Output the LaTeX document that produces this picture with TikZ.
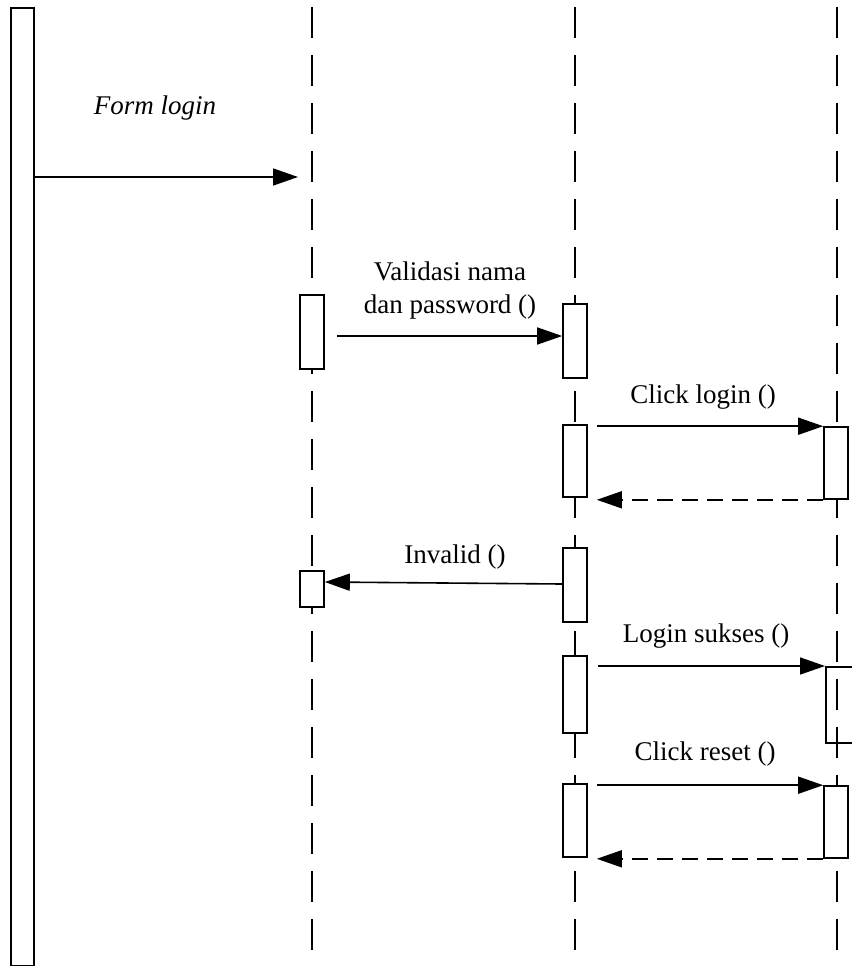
\documentclass[tikz,border=0pt]{standalone}
\usepackage{fontspec}
\setmainfont{Liberation Serif}
\usetikzlibrary{arrows.meta}
\tikzset{
  life/.style={line width=1.6pt,dash pattern=on 31pt off 17pt},
  act/.style={rectangle,draw,fill=white,line width=1.6pt,minimum width=24pt,inner sep=0pt},
  msg/.style={-{Triangle[length=25pt,width=17pt]},line width=1.6pt},
  ret/.style={msg,dash pattern=on 16pt off 9pt},
  lbl/.style={font=\fontsize{27}{33}\selectfont,align=center,inner sep=0pt},
}

\begin{document}
\begin{tikzpicture}[x=1pt,y=-1pt]
  \useasboundingbox (0,0) rectangle (851,966);
  % lifelines
  \foreach \x in {312,575,837} \draw[life] (\x,7) -- (\x,966);
  \node[act,minimum width=23pt,minimum height=958pt,anchor=north] (user) at (22.5,7) {};
  % activations
  \node[act,minimum height=74pt] (v1) at (312,332) {};
  \node[act,minimum height=36pt] (i1) at (312,589) {};
  \node[act,minimum height=74pt] (v2) at (575,341) {};
  \node[act,minimum height=72pt] (c2) at (575,461) {};
  \node[act,minimum height=74pt] (n2) at (575,585) {};
  \node[act,minimum height=77pt] (s2) at (575,694.5) {};
  \node[act,minimum height=73pt] (r2) at (575,820.5) {};
  \node[act,minimum height=72pt] (c3) at (836,463) {};
  \node[act,fill=none,minimum width=37pt,minimum height=76pt,anchor=north west] (s3) at (825,666) {};
  \node[act,minimum height=72pt] (r3) at (836,822) {};
  % messages
  \coordinate (form) at (298,177);
  \draw[msg] (user.east |- form) -- (form);
  \draw[msg] ([xshift=12pt]v1.east |- 0,336) -- (v2.west |- 0,336);
  \draw[msg] ([xshift=9pt]c2.east |- c3.north) -- (c3.north west);
  \draw[ret] (c3.south west) -- ([xshift=9pt]c2.east |- c3.south);
  \draw[msg] (n2.west |- 0,584) -- (i1.east |- 0,582);
  \draw[msg] ([xshift=10pt]s2.east |- s3.north west) -- (s3.north west);
  \draw[msg] ([xshift=9pt]r2.east |- r3.north) -- (r3.north west);
  \draw[ret] (r3.south west) -- ([xshift=9pt]r2.east |- r3.south);
  % labels
  \node[lbl,font=\fontsize{27}{33}\selectfont\itshape] (formlbl) at (155,108) {Form login};
  \node[lbl] (vallbl) at (450,291) {Validasi nama\\dan password ()};
  \node[lbl] (clklbl) at (703,397) {Click login ()};
  \node[lbl] (invlbl) at (455,557) {Invalid ()};
  \node[lbl] (suklbl) at (706,636) {Login sukses ()};
  \node[lbl] (rstlbl) at (705,754) {Click reset ()};
\end{tikzpicture}
\end{document}
